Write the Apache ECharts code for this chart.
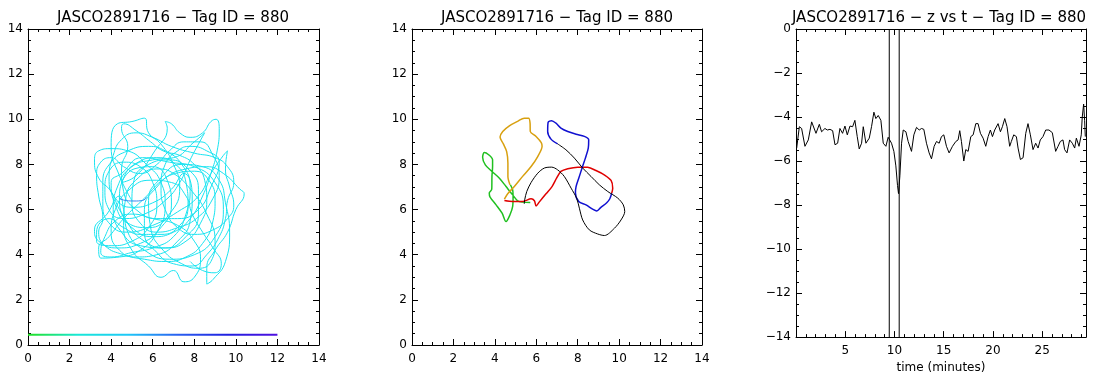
<!DOCTYPE html>
<html>
<head>
<meta charset="utf-8">
<title>JASCO2891716 - Tag ID = 880</title>
<script src="https://cdn.jsdelivr.net/npm/echarts@6/dist/echarts.min.js"></script>
<style>
  html, body { margin: 0; padding: 0; background: #fff; }
  #chart { width: 1099px; height: 379px; }
</style>
</head>
<body>
<div id="chart"></div>
<script>
// full track of the tag (x, y in metres)
const trackAll = [
  [5.0,6.4],[4.4,7.5],[4.0,8.8],[4.3,9.8],[5.0,9.9],[5.6,10.05],[5.8,9.4],[6.4,8.9],[7.0,8.0],[7.3,7.0],[6.8,5.8],[5.8,5.2],[4.8,5.4],[4.2,6.2],[4.0,7.2],
  [4.5,7.6],[5.5,8.3],[6.8,8.1],[8.0,7.9],[9.0,7.2],[9.4,6.0],[9.0,4.8],[8.0,4.0],[6.8,3.8],[5.6,4.2],[4.8,5.0],[4.6,6.0],
  [4.4,6.6],[3.8,5.8],[3.2,5.1],[3.4,4.6],[4.3,4.3],[5.4,4.5],[6.3,5.1],[6.9,6.2],[6.7,7.3],[6.0,7.9],[5.1,7.8],[4.5,7.2],
  [5.2,7.5],[6.1,8.6],[6.7,9.6],[6.6,9.9],[6.9,9.8],[7.3,9.4],[7.8,9.2],[8.4,9.4],[8.8,9.9],[9.05,10.0],[9.2,9.6],[9.1,8.6],[8.8,7.6],[8.4,6.6],[7.8,5.6],[7.0,5.0],[6.0,4.8],[5.0,5.2],[4.4,6.0],
  [4.0,6.8],[3.4,7.4],[3.2,8.2],[3.4,8.6],[4.0,8.7],[4.8,8.6],[5.7,8.0],[6.4,7.2],[6.6,6.2],[6.2,5.0],[5.4,4.2],[4.4,3.9],[3.5,3.85],[3.4,4.3],[3.9,4.8],[4.6,5.6],
  [5.6,6.5],[6.6,7.4],[7.6,7.8],[8.6,7.9],[9.4,7.6],[10.2,6.9],[10.4,6.7],[10.0,6.0],[9.6,5.0],[9.0,4.2],[8.6,3.4],[8.6,2.7],[8.9,2.9],[9.5,3.7],[9.7,5.0],[9.5,6.3],[9.2,7.3],[8.4,7.9],[7.4,8.0],
  [6.4,7.4],[5.8,6.4],[5.9,5.2],[6.5,4.2],[7.4,3.6],[8.2,3.4],[8.8,3.7],[9.0,4.6],[8.6,5.8],[7.9,6.8],[7.0,7.6],[6.2,7.8],[5.3,7.4],[4.7,6.5],[4.6,5.3],[5.0,4.2],[5.8,3.5],[6.4,3.0],[7.0,3.3],[7.5,2.8],[8.0,3.0],[8.3,3.8],
  [8.0,4.6],[7.2,5.3],[6.0,5.6],[5.0,5.8],[4.2,5.5],[3.7,4.8],[3.5,4.1],[4.0,3.9],[5.0,4.1],[6.0,4.3],[7.0,4.8],[7.6,5.8],[7.8,7.0],[7.4,8.0],[6.6,8.6],[5.8,8.8],[4.8,8.6],[4.0,8.1],[3.6,7.2],[3.6,6.2],[4.0,5.3],
  [4.8,5.0],[6.0,5.3],[7.2,5.9],[8.2,6.6],[8.8,7.6],[9.4,8.4],[9.6,8.6],[9.5,7.8],[9.7,7.0],[9.9,6.2],[9.6,5.6],[8.9,5.1],[8.0,4.9],[7.2,5.2],[6.6,6.0],[6.4,7.0],[6.6,8.0],[7.2,8.6],[7.8,8.8],[8.6,8.6],[9.2,8.1],
  [8.8,7.0],[8.2,6.0],[7.2,5.6],[6.2,5.6],[5.2,6.0],[4.6,6.8],[4.5,7.8],[4.8,8.8],[4.5,9.6],[4.6,9.8],[5.2,9.5],[5.9,9.0],[6.5,8.6],[7.3,8.4],[8.0,8.0],[8.5,7.3],[8.6,6.4],[8.3,5.4],[7.6,4.6],[6.6,4.3],[5.6,4.6],[4.8,5.4],[4.4,6.4],[4.6,7.4],[5.3,8.1],[6.2,8.3],[7.1,8.0],[7.6,7.2],[7.7,6.2],[7.3,5.3],
  [6.4,4.9],[5.4,4.9],[4.6,5.2],[3.9,5.6],[3.3,5.0],[3.3,4.6],[4.0,4.4],[5.0,4.6],[5.8,5.2],[6.2,6.2],[6.0,7.2],[5.4,7.9],[4.6,8.1],[3.9,7.7],[3.7,6.9],[3.9,6.0],[4.6,5.6],[5.6,5.8],[6.6,6.4],[7.3,7.2],[7.8,8.2],[8.2,8.9],[8.5,9.4],
  [8.0,9.0],[7.0,8.3],[6.0,8.2],[5.0,7.9],[4.3,7.0],[4.1,6.0],[4.5,5.0],[5.4,4.4],[6.6,4.3],[7.6,4.8],[8.2,5.8],[8.2,6.9],[7.7,7.8],[6.8,8.2],[5.8,8.0],[5.1,7.3],[5.0,6.3],[5.4,5.4],[6.2,5.0],[7.2,5.2],
  [8.1,5.6],[8.9,6.5],[9.2,7.5],[8.9,8.4],[8.3,9.0],[7.5,9.0],[6.8,8.6],[6.2,8.0],[5.4,7.6],[4.6,7.9],[4.0,8.3],[3.5,8.1],[3.3,7.5],[3.4,6.6],[3.6,5.6],[3.4,5.0],[3.7,4.4],[4.6,4.0],[5.6,3.8],[6.6,3.7],[7.6,3.9],[8.4,4.5],[8.9,5.5],[9.0,6.4],
  [8.7,7.3],[8.0,7.7],[7.1,7.6],[6.2,7.0],[5.6,6.0],[5.6,5.0],[6.2,4.1],[7.0,3.6],[7.9,3.5],[8.6,4.0],[9.2,4.8],[9.5,5.6],[9.6,6.4],[9.9,7.2],[9.6,7.9],[9.0,8.3],[8.0,8.5],[6.9,8.8],[6.0,9.2],[5.2,9.4],[4.5,9.1],[4.1,8.4],[3.9,7.4],[4.2,6.5],[5.0,6.1],[6.0,6.3],[6.9,6.9],[7.5,7.6],
  [7.9,6.6],[7.8,5.5],[7.2,4.6],[6.2,4.0],[5.2,3.9],[4.4,4.2],[4.0,5.0],[4.2,6.0],[4.9,6.9],[5.9,7.3],[6.9,7.2],[7.6,6.6],[7.9,5.8],[8.4,5.0],[8.9,4.3],[9.3,3.6],[9.0,3.2],[8.4,3.3],[7.8,3.7]
];
const trackBlue = [[4.4,6.5],[4.6,6.42],[5.1,6.38],[5.5,6.4],[5.7,6.55]];

// colour bar (time scale) under the track
const barX = [0, 12];
const barY = 0.45;

// middle panel: first minutes of the track, one colour per segment
const segGreen = [[5.71,6.31],[5.34,6.33],[5.10,6.39],[4.86,6.65],[4.54,7.02],[4.22,7.39],[3.86,7.69],[3.54,7.98],[3.41,8.32],[3.49,8.53],[3.70,8.43],[3.89,8.21],[3.89,7.91],[3.86,7.47],[3.85,6.90],[3.73,6.73],[3.77,6.55],[4.06,6.21],[4.35,5.84],[4.54,5.47],[4.73,5.77],[4.86,6.14],[4.88,6.58],[4.86,6.87],[4.75,7.10]];
const segGold = [[4.46,6.46],[4.62,6.70],[4.94,7.02],[5.34,7.47],[5.75,7.91],[6.07,8.35],[6.28,8.80],[6.24,8.97],[5.99,9.24],[5.71,9.46],[5.70,9.83],[5.63,10.05],[5.42,10.05],[5.10,9.91],[4.70,9.71],[4.38,9.46],[4.25,9.21],[4.41,8.91],[4.57,8.57],[4.63,8.06],[4.63,7.47],[4.73,7.10]];
const segRed = [[4.46,6.40],[4.86,6.36],[5.34,6.36],[5.75,6.48],[5.91,6.39],[5.99,6.16],[6.15,6.34],[6.47,6.70],[6.76,7.02],[6.98,7.39],[7.19,7.69],[7.52,7.81],[8.00,7.88],[8.48,7.87],[8.88,7.73],[9.28,7.54],[9.61,7.29],[9.69,6.95],[9.64,6.72]];
const segBlue = [[9.64,6.72],[9.55,6.48],[9.40,6.30],[9.12,6.10],[8.92,5.94],[8.72,6.02],[8.40,6.21],[8.05,6.36],[7.89,6.73],[7.92,7.02],[8.05,7.39],[8.21,7.84],[8.37,8.28],[8.51,8.72],[8.53,9.09],[8.32,9.24],[7.92,9.34],[7.52,9.46],[7.19,9.61],[6.95,9.83],[6.74,9.94],[6.57,9.86],[6.55,9.46],[6.71,9.12],[7.03,8.91]];
const segBlack = [[7.03,8.91],[7.43,8.65],[7.84,8.28],[8.24,7.84],[8.64,7.47],[9.04,7.10],[9.45,6.80],[9.93,6.51],[10.20,6.21],[10.27,5.91],[10.09,5.54],[9.77,5.17],[9.29,4.85],[8.96,4.92],[8.56,5.10],[8.24,5.54],[8.08,6.06],[7.95,6.50],[7.68,6.95],[7.35,7.47],[7.03,7.76],[6.74,7.88],[6.39,7.84],[6.07,7.61],[5.75,7.20],[5.54,6.80],[5.44,6.43],[5.42,6.25]];

// right panel: depth vs time
const timeMin = [0.07,0.34,0.57,0.91,1.25,1.59,1.76,2.03,2.37,2.60,2.94,3.18,3.45,3.72,3.96,4.23,4.46,4.73,4.97,5.21,5.48,5.75,5.98,6.22,6.42,6.66,6.83,7.10,7.44,7.67,7.91,8.11,8.35,8.62,8.86,9.13,9.36,9.70,9.94,10.14,10.31,10.41,10.55,10.72,10.89,11.16,11.39,11.73,11.97,12.24,12.51,12.75,12.98,13.25,13.52,13.76,14.03,14.27,14.54,14.77,15.01,15.28,15.55,15.89,16.23,16.46,16.63,16.80,17.04,17.24,17.48,17.75,17.99,18.26,18.49,18.73,19.00,19.27,19.51,19.74,19.95,20.18,20.52,20.76,20.96,21.20,21.43,21.70,21.87,22.11,22.38,22.55,22.79,23.06,23.33,23.56,23.80,24.07,24.34,24.58,24.81,25.08,25.36,25.69,26.03,26.37,26.61,26.84,27.11,27.28,27.52,27.79,28.06,28.30,28.47,28.74,28.97,29.07,29.21,29.31,29.38];
const depthZ = [-5.41,-4.44,-4.52,-5.33,-5.04,-4.22,-4.30,-4.74,-4.33,-4.67,-4.52,-4.59,-4.56,-4.62,-5.26,-5.19,-4.52,-4.74,-4.41,-4.81,-4.41,-4.44,-4.15,-4.89,-5.45,-5.19,-4.44,-5.19,-4.96,-4.44,-3.78,-4.07,-3.93,-4.15,-5.19,-5.33,-4.92,-5.19,-5.56,-6.22,-7.11,-7.48,-6.67,-5.19,-4.59,-4.67,-5.11,-5.56,-4.81,-4.47,-4.59,-4.52,-4.56,-5.19,-5.63,-5.90,-5.33,-5.11,-5.19,-4.89,-4.81,-5.33,-5.63,-5.33,-5.11,-5.04,-4.62,-5.11,-6.00,-5.48,-5.56,-4.89,-4.81,-4.30,-4.30,-4.74,-4.96,-5.33,-4.89,-4.59,-4.89,-4.59,-4.30,-4.67,-4.44,-4.07,-4.44,-5.33,-5.11,-4.81,-4.89,-5.41,-5.93,-5.85,-4.74,-4.30,-4.81,-5.48,-5.19,-5.41,-5.04,-4.89,-4.59,-4.59,-4.71,-5.56,-5.33,-5.11,-5.04,-5.48,-5.63,-5.04,-5.19,-5.41,-4.96,-5.33,-4.81,-4.00,-3.41,-4.15,-4.89];
const markerTimes = [9.47, 10.48];
const timeMax = 29.45;

const titles = [
  "JASCO2891716 − Tag ID = 880",
  "JASCO2891716 − Tag ID = 880",
  "JASCO2891716 − z vs t − Tag ID = 880"
];

const chart = echarts.init(document.getElementById("chart"));

const font = "DejaVu Sans";
const minus = (v) => String(v).replace("-", "−");

const grids = [
  { left: 28, top: 29, width: 291, height: 316 },
  { left: 412, top: 29, width: 290, height: 316 },
  { left: 796, top: 29, width: 290, height: 316 }
];

const tick = { show: true, inside: true, length: 6, lineStyle: { color: "#000" } };
const minor = (n) => ({ show: true, splitNumber: n, length: 3, lineStyle: { color: "#000" } });
const line = { show: true, onZero: false, lineStyle: { color: "#000", width: 1 } };
const label = { color: "#000", fontFamily: font, fontSize: 12 };

function axisPair(kind, gridIndex, opts, minorN) {
  const { formatter, ...range } = opts;
  const a = {
    type: "value", gridIndex, ...range,
    axisLine: line, axisTick: tick, minorTick: minor(minorN),
    splitLine: { show: false }
  };
  const main = { ...a, position: kind === "x" ? "bottom" : "left",
    axisLabel: { ...label, margin: kind === "x" ? 8 : 5, formatter: formatter || minus } };
  const other = { ...a, position: kind === "x" ? "top" : "right", axisLabel: { show: false } };
  return [main, other];
}

const xAxis = [
  ...axisPair("x", 0, { min: 0, max: 14, interval: 2 }, 4),
  ...axisPair("x", 1, { min: 0, max: 14, interval: 2 }, 4),
  ...axisPair("x", 2, {
    min: 0, max: timeMax, interval: 5,
    formatter: (v) => (v > 0 && v % 5 === 0 ? String(v) : "")
  }, 5)
];
xAxis[4].name = "time (minutes)";
xAxis[4].nameLocation = "middle";
xAxis[4].nameGap = 21;
xAxis[4].nameTextStyle = { color: "#000", fontFamily: font, fontSize: 12 };

const yAxis = [
  ...axisPair("y", 0, { min: 0, max: 14, interval: 2 }, 4),
  ...axisPair("y", 1, { min: 0, max: 14, interval: 2 }, 4),
  ...axisPair("y", 2, { min: -14, max: 0, interval: 2 }, 4)
];

const path = (data, xi, yi, color, width, extra) => ({
  type: "line", data, xAxisIndex: xi, yAxisIndex: yi,
  showSymbol: false, symbol: "none", animation: false, silent: true,
  lineStyle: color ? { color, width } : { width },
  itemStyle: color ? { color } : {},
  ...extra
});

const options = {
  animation: false,
  grid: grids,
  xAxis,
  yAxis,
  visualMap: [{
    type: "continuous", show: false, seriesIndex: 2, dimension: 0,
    min: 0, max: 12,
    inRange: { color: ["#22e022", "#18e8d8", "#1ec8f8", "#2a60f0", "#2020e0", "#5010e0"] }
  }],
  graphic: titles.map((t, i) => ({
    type: "text",
    x: [173, 557, 939][i], y: 18,
    style: { text: t, fill: "#000", font: "15px " + font, textAlign: "center", textVerticalAlign: "middle" }
  })),
  series: [
    path(trackAll, 0, 0, "#19e3f0", 1, { smooth: 0.5 }),
    path(trackBlue, 0, 0, "#3a86f0", 1, { smooth: 0.5 }),
    path(barX.map((x) => [x, barY]), 0, 0, null, 2),
    path(segGreen, 2, 2, "#20c020", 1.5, { smooth: 0.3 }),
    path(segGold, 2, 2, "#d8a010", 1.5, { smooth: 0.3 }),
    path(segRed, 2, 2, "#e00000", 1.5, { smooth: 0.3 }),
    path(segBlue, 2, 2, "#1010d0", 1.5, { smooth: 0.3 }),
    path(segBlack, 2, 2, "#000000", 1, { smooth: 0.3 }),
    path(timeMin.map((t, i) => [t, depthZ[i]]), 4, 4, "#000", 1),
    ...markerTimes.map((t) => path([[t, -14], [t, 0]], 4, 4, "#000", 1))
  ]
};

chart.setOption(options);
</script>
</body>
</html>
